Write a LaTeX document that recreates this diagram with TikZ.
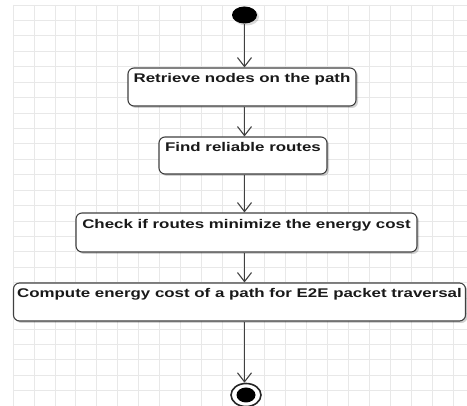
\documentclass[tikz,border=0pt]{standalone}
\usepackage{fontspec}
\setmainfont{Liberation Sans}[FakeStretch=1.34]
\usetikzlibrary{arrows.meta,shadows,shapes.geometric}

\tikzset{
  gridline/.style={draw=black!9, line width=0.8pt},
  activity/.style={draw=black!75, fill=white, line width=1.1pt,
    rounded corners=6pt, inner sep=0pt, text height=9pt, text depth=17pt,
    font=\bfseries\fontsize{12.6}{14}\selectfont, text=black!90,
    drop shadow={shadow xshift=2pt, shadow yshift=-2pt, opacity=0.18, fill=black}},
  flow/.style={draw=black!75, line width=1.1pt,
    -{Straight Barb[length=9pt,width=14pt,line width=1.1pt]}},
  initial/.style={ellipse, fill=black, inner sep=0pt,
    minimum width=25pt, minimum height=17pt,
    drop shadow={shadow xshift=2pt, shadow yshift=-2pt, opacity=0.15, fill=black}},
  finalring/.style={ellipse, draw=black!85, fill=white, line width=1.6pt,
    inner sep=0pt, minimum width=30pt, minimum height=23pt},
  finaldot/.style={ellipse, fill=black, inner sep=0pt,
    minimum width=19pt, minimum height=15pt},
}

\begin{document}
\begin{tikzpicture}[x=1pt, y=-1pt]
  \useasboundingbox (0,0) rectangle (467,406);
  \fill[white] (0,0) rectangle (467,406);

  % background grid
  \foreach \k in {0,...,21}
    \draw[gridline] ({13+20.95*\k},5) -- ({13+20.95*\k},406);
  \foreach \k in {0,...,26}
    \draw[gridline] (13,{5+15.43*\k}) -- (467,{5+15.43*\k});

  % start and end markers
  \node[initial] (start) at (244.5,15) {};
  \node[finalring] (stop) at (246,395) {};
  \node[finaldot] (stopdot) at (246,395) {};

  % activities
  \node[activity, minimum width=228pt, minimum height=38pt] (retrieve) at (242,87) {Retrieve nodes on the path};
  \node[activity, minimum width=168pt, minimum height=37pt] (find) at (243,155.5) {Find reliable routes};
  \node[activity, minimum width=341pt, minimum height=39pt] (check) at (246.5,232.5) {Check if routes minimize the energy cost};
  \node[activity, minimum width=452pt, minimum height=38pt] (compute) at (239.5,302) {Compute energy cost of a path for E2E packet traversal};

  % control flow
  \draw[flow] (start) -- (start |- retrieve.north);
  \draw[flow] (start |- retrieve.south) -- (start |- find.north);
  \draw[flow] (start |- find.south) -- (start |- check.north);
  \draw[flow] (start |- check.south) -- (start |- compute.north);
  \draw[flow] (start |- compute.south) -- (start |- stop.north);
\end{tikzpicture}
\end{document}
